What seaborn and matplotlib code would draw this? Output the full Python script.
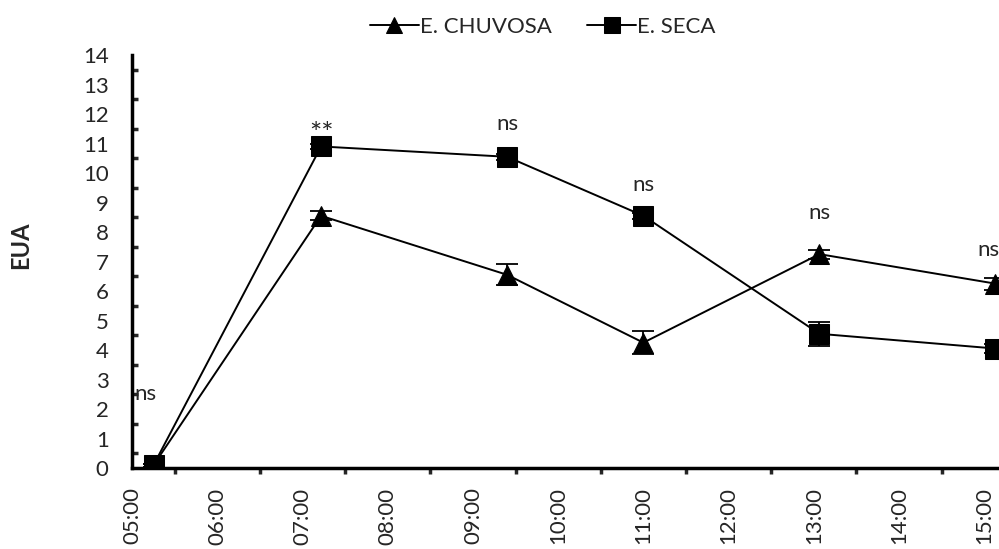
import pandas as pd
import seaborn as sns
import matplotlib.pyplot as plt
from matplotlib.ticker import MultipleLocator, FuncFormatter

# data
times = ["05:15", "07:13", "09:24", "11:00", "13:04", "15:08"]
chuvosa = [0.1, 8.55, 6.55, 4.25, 7.25, 6.25]
chuvosa_err = [0.05, 0.15, 0.35, 0.4, 0.15, 0.2]
seca = [0.1, 10.9, 10.55, 8.55, 4.55, 4.05]
seca_err = [0.05, 0.1, 0.1, 0.1, 0.4, 0.15]

sig_labels = ["ns", "**", "ns", "ns", "ns", "ns"]
sig_times = ["05:09", "07:13", "09:24", "11:00", "13:04", "15:03"]
sig_y = [2.5, 11.3, 11.65, 9.6, 8.65, 7.4]

def to_hours(t):
    h, m = t.split(":")
    return int(h) + int(m) / 60

df = pd.DataFrame({
    "hora": [to_hours(t) for t in times],
    "chuvosa": chuvosa,
    "chuvosa_err": chuvosa_err,
    "seca": seca,
    "seca_err": seca_err,
})

sns.set_theme(style="white")
plt.rcParams['font.family'] = ['Lato', 'DejaVu Sans']

fig = plt.figure(figsize=(9.99, 5.49), dpi=100)
ax = fig.add_axes([0.1324, 0.1475, 0.874, 0.7523])

# error bars first, so markers sit on top
ax.errorbar(df["hora"], df["chuvosa"], yerr=df["chuvosa_err"], fmt='none',
            ecolor='black', elinewidth=1.3, capsize=8, capthick=1.3, zorder=1)
ax.errorbar(df["hora"], df["seca"], yerr=df["seca_err"], fmt='none',
            ecolor='black', elinewidth=1.3, capsize=8, capthick=1.3, zorder=1)

sns.lineplot(data=df, x="hora", y="chuvosa", ax=ax, color='black', linewidth=1.4,
             marker='^', markersize=14, markeredgecolor='black', label='E. CHUVOSA', zorder=3)
sns.lineplot(data=df, x="hora", y="seca", ax=ax, color='black', linewidth=1.4,
             marker='s', markersize=14, markeredgecolor='black', label='E. SECA', zorder=3)

for lab, t, y in zip(sig_labels, sig_times, sig_y):
    ax.text(to_hours(t), y, lab, ha='center', va='center', fontsize=21 if lab == "**" else 16)

ax.set_xlim(5, 15.25)
ax.set_ylim(0, 14)
ax.xaxis.set_major_locator(MultipleLocator(1))
ax.xaxis.set_minor_locator(MultipleLocator(0.5))
ax.xaxis.set_major_formatter(FuncFormatter(lambda v, p: f"{int(round(v)):02d}:00"))
ax.yaxis.set_major_locator(MultipleLocator(1))
ax.yaxis.set_minor_locator(MultipleLocator(0.5))
plt.setp(ax.get_xticklabels(), rotation=90)

ax.tick_params(axis='x', which='major', direction='out', length=6, width=2.5, labelsize=16, pad=8)
ax.tick_params(axis='x', which='minor', direction='out', length=4.5, width=2.5, bottom=True)
ax.tick_params(axis='y', which='major', direction='inout', length=8, width=2.5, labelsize=16, pad=13)
ax.tick_params(axis='y', which='minor', direction='in', length=4, width=2.5, left=True)

for s in ['top', 'right']:
    ax.spines[s].set_visible(False)
for s in ['left', 'bottom']:
    ax.spines[s].set_linewidth(2.5)
    ax.spines[s].set_color('black')

ax.set_xlabel(None)
ax.set_ylabel('EUA', fontsize=17, fontweight='bold')
ax.yaxis.set_label_coords(-0.115, 0.54)
ax.grid(False)

leg = ax.legend(loc='center', bbox_to_anchor=(0.47, 1.068), ncol=2, frameon=False,
                fontsize=16, handlelength=2.2, handletextpad=0.05, columnspacing=1.6,
                markerscale=0.85)

fig.savefig('out.png', dpi=100)
